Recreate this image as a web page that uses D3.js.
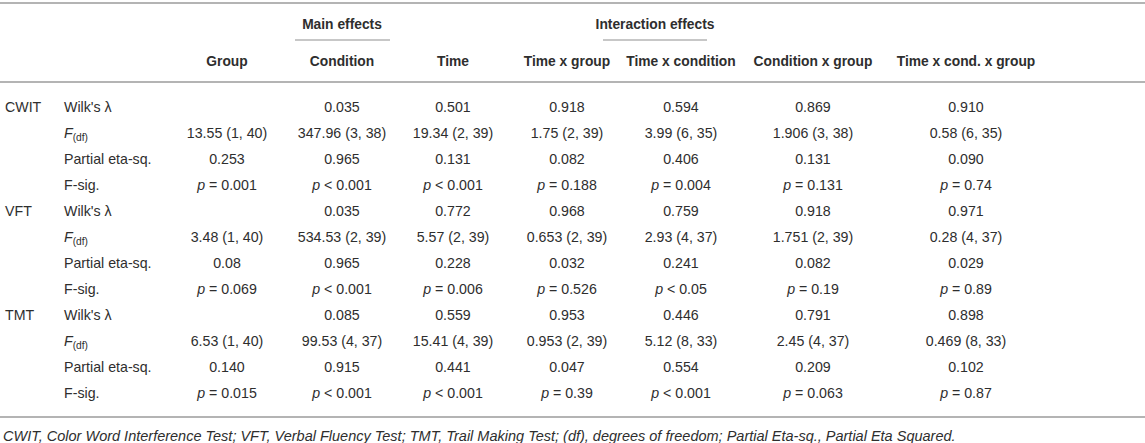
<!DOCTYPE html>
<html>
<head>
<meta charset="utf-8">
<script src="https://cdn.jsdelivr.net/npm/d3@7/dist/d3.min.js"></script>
<style>
  html, body { margin: 0; padding: 0; background: #fff; }
  svg { display: block; font-family: "Liberation Sans", Arial, Helvetica, sans-serif; }
</style>
</head>
<body>
<svg id="chart" width="1145" height="443"></svg>
<script>
// ---------- data ----------
const columns = ["Group", "Condition", "Time", "Time x group", "Time x condition", "Condition x group", "Time x cond. x group"];
const groupHeaders = ["Main effects", "Interaction effects"];
const tests = ["CWIT", "VFT", "TMT"];
const stats = ["Wilk's λ", "F(df)", "Partial eta-sq.", "F-sig."];

const cwitWilks = ["", "0.035", "0.501", "0.918", "0.594", "0.869", "0.910"];
const cwitF     = ["13.55 (1, 40)", "347.96 (3, 38)", "19.34 (2, 39)", "1.75 (2, 39)", "3.99 (6, 35)", "1.906 (3, 38)", "0.58 (6, 35)"];
const cwitEta   = ["0.253", "0.965", "0.131", "0.082", "0.406", "0.131", "0.090"];
const cwitSig   = ["= 0.001", "< 0.001", "< 0.001", "= 0.188", "= 0.004", "= 0.131", "= 0.74"];

const vftWilks = ["", "0.035", "0.772", "0.968", "0.759", "0.918", "0.971"];
const vftF     = ["3.48 (1, 40)", "534.53 (2, 39)", "5.57 (2, 39)", "0.653 (2, 39)", "2.93 (4, 37)", "1.751 (2, 39)", "0.28 (4, 37)"];
const vftEta   = ["0.08", "0.965", "0.228", "0.032", "0.241", "0.082", "0.029"];
const vftSig   = ["= 0.069", "< 0.001", "= 0.006", "= 0.526", "< 0.05", "= 0.19", "= 0.89"];

const tmtWilks = ["", "0.085", "0.559", "0.953", "0.446", "0.791", "0.898"];
const tmtF     = ["6.53 (1, 40)", "99.53 (4, 37)", "15.41 (4, 39)", "0.953 (2, 39)", "5.12 (8, 33)", "2.45 (4, 37)", "0.469 (8, 33)"];
const tmtEta   = ["0.140", "0.915", "0.441", "0.047", "0.554", "0.209", "0.102"];
const tmtSig   = ["= 0.015", "< 0.001", "< 0.001", "= 0.39", "< 0.001", "= 0.063", "= 0.87"];

const footnote = "CWIT, Color Word Interference Test; VFT, Verbal Fluency Test; TMT, Trail Making Test; (df), degrees of freedom; Partial Eta-sq., Partial Eta Squared.";

// ---------- build rows ----------
const testValues = {
  CWIT: [cwitWilks, cwitF, cwitEta, cwitSig],
  VFT:  [vftWilks, vftF, vftEta, vftSig],
  TMT:  [tmtWilks, tmtF, tmtEta, tmtSig]
};
const rows = [];
tests.forEach(t => stats.forEach((s, si) => {
  rows.push({ key: t + "|" + s, test: si === 0 ? t : "", stat: s, values: testValues[t][si], isSig: si === 3 });
}));

// ---------- layout ----------
const W = 1145, H = 443;
const textColor = "#2e2e2e";
const ruleColor = "#b4b4b4";
const fs = 14.2;
const hfs = 13.8;
const colWidths = [115, 111, 114, 114, 132, 153];   // spacing between column centres
const firstCenter = 227;
const centers = [firstCenter];
colWidths.forEach((w, i) => centers.push(centers[i] + w));

const x = d3.scaleOrdinal().domain(columns).range(centers);
const y = d3.scalePoint().domain(rows.map(r => r.key)).range([107, 393]);

const svg = d3.select("#chart");

// rules
const rules = [3, 82, 417];
svg.selectAll("line.rule").data(rules).join("line")
  .attr("class", "rule")
  .attr("x1", 0).attr("x2", W)
  .attr("y1", d => d).attr("y2", d => d)
  .attr("stroke", ruleColor).attr("stroke-width", 2);

// group headers
const groupSpec = [
  { label: groupHeaders[0], cx: x("Condition"), x1: 295, x2: 390 },
  { label: groupHeaders[1], cx: 655, x1: 603, x2: 707 }
];
svg.selectAll("text.ghead").data(groupSpec).join("text")
  .attr("class", "ghead")
  .attr("x", d => d.cx).attr("y", 24)
  .attr("text-anchor", "middle").attr("dominant-baseline", "central")
  .attr("font-weight", "bold").attr("font-size", hfs).attr("fill", textColor)
  .text(d => d.label);
svg.selectAll("line.gline").data(groupSpec).join("line")
  .attr("class", "gline")
  .attr("x1", d => d.x1).attr("x2", d => d.x2)
  .attr("y1", 40).attr("y2", 40)
  .attr("stroke", ruleColor).attr("stroke-width", 1.5);

// column headers
svg.selectAll("text.chead").data(columns).join("text")
  .attr("class", "chead")
  .attr("x", d => x(d)).attr("y", 61)
  .attr("text-anchor", "middle").attr("dominant-baseline", "central")
  .attr("font-weight", "bold").attr("font-size", hfs).attr("fill", textColor)
  .text(d => d);

// body rows
const rowG = svg.selectAll("g.row").data(rows).join("g")
  .attr("class", "row")
  .attr("transform", d => `translate(0,${y(d.key)})`);

rowG.append("text")
  .attr("x", 5).attr("dominant-baseline", "central")
  .attr("font-size", fs).attr("fill", textColor)
  .text(d => d.test);

rowG.each(function(d) {
  const g = d3.select(this);
  const t = g.append("text")
    .attr("x", 64).attr("dominant-baseline", "central")
    .attr("font-size", fs).attr("fill", textColor);
  if (d.stat === "F(df)") {
    t.append("tspan").attr("font-style", "italic").text("F");
    t.append("tspan").attr("font-size", fs * 0.72).attr("dy", 4).text("(df)");
  } else {
    t.text(d.stat);
  }
  const cells = d.values.map((v, i) => ({ v, col: columns[i] }));
  cells.forEach(c => {
    if (!c.v) return;
    const ct = g.append("text")
      .attr("x", x(c.col)).attr("text-anchor", "middle").attr("dominant-baseline", "central")
      .attr("font-size", fs).attr("fill", textColor);
    if (d.isSig) {
      ct.append("tspan").attr("font-style", "italic").text("p");
      ct.append("tspan").text(" " + c.v);
    } else {
      ct.text(c.v);
    }
  });
});

// footnote
svg.append("text")
  .attr("x", 3).attr("y", 436)
  .attr("dominant-baseline", "central")
  .attr("font-style", "italic").attr("font-size", 14.5).attr("fill", textColor)
  .text(footnote);
</script>
</body>
</html>
